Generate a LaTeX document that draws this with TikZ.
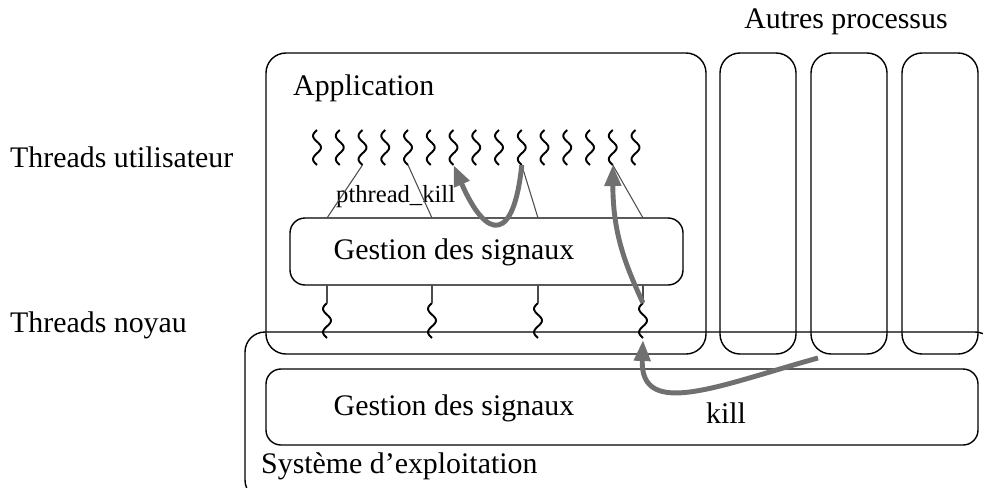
\documentclass[tikz,border=0pt]{standalone}
\usepackage{fontspec}
\setmainfont{Liberation Serif}
\usetikzlibrary{arrows.meta}

\definecolor{sigris}{RGB}{112,112,112}

\tikzset{
    boite/.style={draw, rounded corners=0.4cm, line width=0.8pt,
        inner sep=0pt, outer sep=0pt},
    lien/.style={draw=black!70, line width=0.6pt},
    fil/.pic={\draw[line width=1.1pt] plot[smooth, domain=0:1, samples=25]
        ({-4*sin(540*\x)}, {35*\x});},
    signal/.style={draw=sigris, line width=2.8pt,
        -{Triangle[length=0.42cm, width=0.32cm]}},
}

\begin{document}
\begin{tikzpicture}[x=0.02cm, y=-0.02cm, font=\fontsize{17}{20}\selectfont]
    \clip (0,0) rectangle (983,487);

    % boites
    \node[boite, minimum width=440*0.02cm, minimum height=301*0.02cm] (app) at (486,203.5) {};
    \foreach \i/\cx in {1/758, 2/849, 3/940}
        \node[boite, minimum width=76*0.02cm, minimum height=301*0.02cm] (autre\i) at (\cx,203.5) {};
    \node[boite, minimum width=750*0.02cm, minimum height=168*0.02cm] (os) at (620,416) {};
    \node[boite, rounded corners=0.3cm, minimum width=393*0.02cm, minimum height=67*0.02cm] (gsapp) at (486.5,251.5) {};
    \node[boite, rounded corners=0.3cm, minimum width=712*0.02cm, minimum height=76*0.02cm] (gsos) at (622,407) {};

    % textes
    \node (autres) at (846,22) {Autres processus};
    \node[anchor=west] (lapp) at (287,88) {Application};
    \node[anchor=west] (lthu) at (4,157) {Threads utilisateur};
    \node[anchor=west] (lthn) at (4,325) {Threads noyau};
    \node[anchor=west] (los) at (255,466) {Système d’exploitation};
    \node (tgsapp) at (454,252) {Gestion des signaux};
    \node (tgsos) at (454,408) {Gestion des signaux};
    \node (tkill) at (726,413) {kill};
    \node[anchor=west, font=\fontsize{14}{16}\selectfont] (tpk) at (330,197) {pthread\_kill};

    % threads utilisateur
    \foreach \i in {1,...,15} {
        \pic at ({317+22.75*(\i-1)},130) {fil};
        \coordinate (u\i) at ({317+22.75*(\i-1)},165);
    }

    % threads noyau
    \foreach \j/\kx in {1/327, 2/432, 3/538, 4/643} {
        \pic at (\kx,303) {fil};
        \coordinate (n\j) at (\kx,303);
        \coordinate (b\j) at (\kx,340);
        \draw[lien] (gsapp.south -| n\j) -- (n\j);
    }

    % liens vers la gestion des signaux
    \draw[lien] (u3) -- (n1 |- gsapp.north);
    \draw[lien] (u5) -- (n2 |- gsapp.north);
    \draw[lien] (u10) -- (n3 |- gsapp.north);
    \draw[lien] (u14) -- (n4 |- gsapp.north);

    % signaux
    \coordinate (ksrc) at (818,358);
    \draw[signal] (u10) .. controls (514,242) and (487,242) .. (u7);
    \draw[signal] (n4) .. controls (624,262) and (613,232) .. (u14);
    \draw[signal] (ksrc) .. controls (720,385) and (640,420) .. (b4);
\end{tikzpicture}
\end{document}
